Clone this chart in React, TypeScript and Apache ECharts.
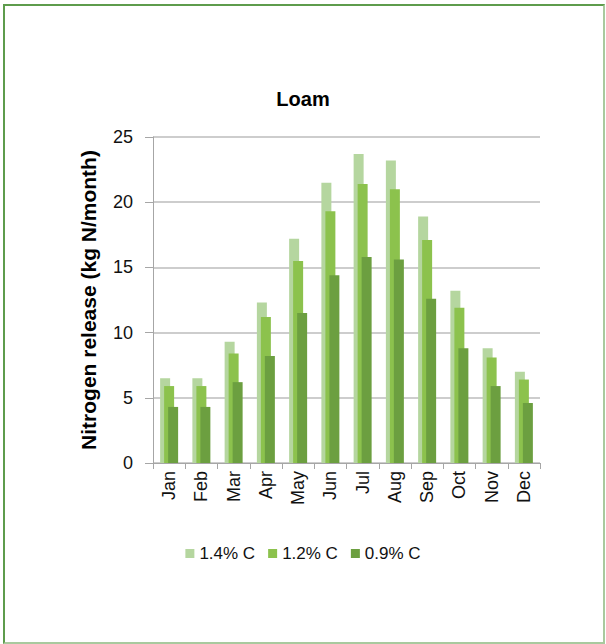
import React, { useEffect, useRef } from "react";
import * as echarts from "echarts";

const months = ["Jan", "Feb", "Mar", "Apr", "May", "Jun", "Jul", "Aug", "Sep", "Oct", "Nov", "Dec"];
const seriesNames = ["1.4% C", "1.2% C", "0.9% C"];
const c14 = [6.5, 6.5, 9.3, 12.3, 17.2, 21.5, 23.7, 23.2, 18.9, 13.2, 8.8, 7.0];
const c12 = [5.9, 5.9, 8.4, 11.2, 15.5, 19.3, 21.4, 21.0, 17.1, 11.9, 8.1, 6.4];
const c09 = [4.3, 4.3, 6.2, 8.2, 11.5, 14.4, 15.8, 15.6, 12.6, 8.8, 5.9, 4.6];
const yTicks = { min: 0, max: 25, interval: 5 };
const colors = ["#b5d69f", "#8cc24d", "#6c9f40"];

export default function App() {
  const ref = useRef<HTMLDivElement>(null);
  useEffect(() => {
    if (!ref.current) return;
    const chart = echarts.init(ref.current, null, { renderer: "svg" });
    const font = "Arial, 'Liberation Sans', sans-serif";
    const data = [c14, c12, c09];
    chart.setOption({
      animation: false,
      textStyle: { fontFamily: font },
      title: {
        text: "Loam",
        left: "center",
        top: 84,
        textStyle: { fontFamily: font, fontSize: 20, fontWeight: "bold", color: "#000" },
      },
      legend: {
        data: seriesNames,
        left: "center",
        top: 540,
        itemWidth: 9,
        itemHeight: 9,
        itemGap: 13,
        icon: "rect",
        textStyle: { fontFamily: font, fontSize: 17, color: "#111" },
      },
      grid: { left: 153, right: 66, top: 137, bottom: 181, containLabel: false },
      xAxis: {
        type: "category",
        data: months,
        boundaryGap: true,
        axisLine: { lineStyle: { color: "#a6a6a6", width: 1 } },
        axisTick: { show: true, alignWithLabel: false, length: 6, lineStyle: { color: "#a6a6a6" } },
        axisLabel: { rotate: 90, fontSize: 18, color: "#111", margin: 8, fontFamily: font, interval: 0 },
      },
      yAxis: {
        type: "value",
        min: yTicks.min,
        max: yTicks.max,
        interval: yTicks.interval,
        name: "Nitrogen release (kg N/month)",
        nameLocation: "middle",
        nameGap: 54,
        nameTextStyle: { fontFamily: font, fontSize: 21, fontWeight: "bold", color: "#000" },
        axisLine: { show: true, lineStyle: { color: "#a6a6a6", width: 1 } },
        axisTick: { show: true, inside: false, length: 8, lineStyle: { color: "#a6a6a6" } },
        splitLine: { lineStyle: { color: "#bdbdbd", width: 1.5 } },
        axisLabel: { fontSize: 18, color: "#111", margin: 20, fontFamily: font },
      },
      series: seriesNames.map((name, i) => ({
        name,
        type: "bar",
        data: data[i],
        barWidth: 10,
        barGap: "-60%",
        itemStyle: { color: colors[i] },
      })),
    });
    return () => chart.dispose();
  }, []);
  return (
    <div style={{ position: "fixed", left: 0, top: 0, width: 606, height: 644, background: "#fff" }}>
      <div
        style={{
          position: "absolute",
          left: 3,
          top: 4,
          right: 1,
          bottom: 0,
          borderTop: "2px solid #5e9c4c",
          borderLeft: "2px solid #5e9c4c",
          borderRight: "2px solid #a9c99e",
          borderBottom: "2px solid #a9c99e",
          boxSizing: "border-box",
        }}
      />
      <div ref={ref} style={{ position: "absolute", left: 0, top: 0, width: 606, height: 644 }} />
    </div>
  );
}
